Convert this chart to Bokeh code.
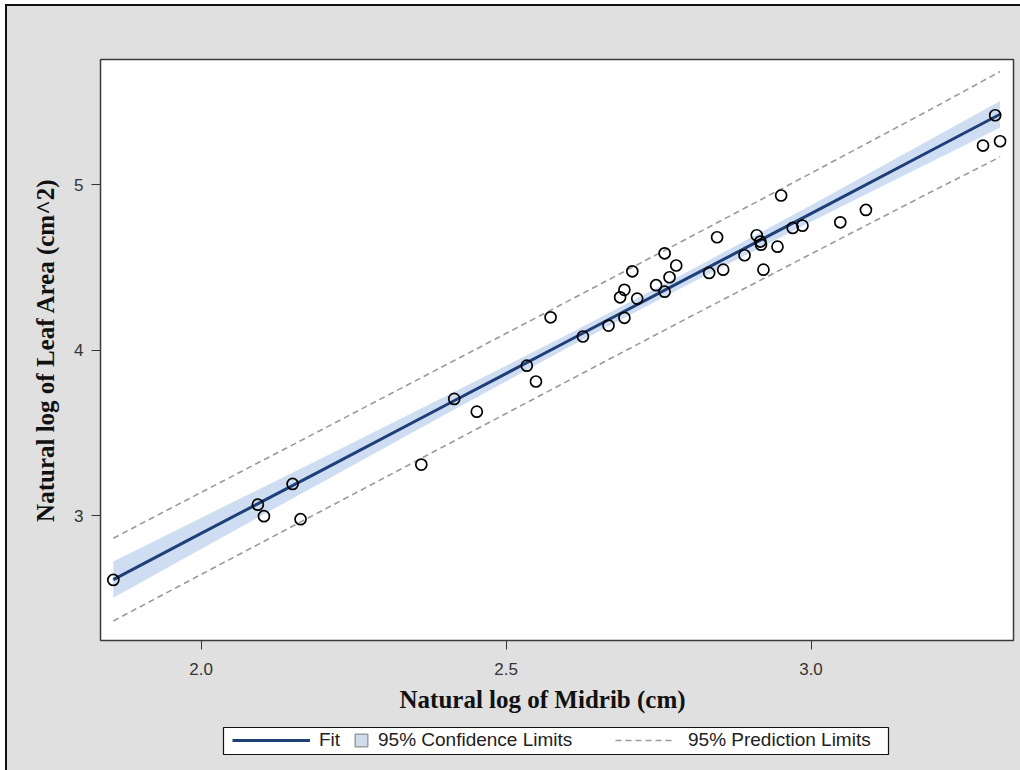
from bokeh.plotting import figure
from bokeh.layouts import column
from bokeh.models import (Range1d, FixedTicker, Legend, LegendItem, Title,
                          NumeralTickFormatter, BoxAnnotation)
from bokeh.embed import file_html
from bokeh.resources import INLINE

# ---- observed data (natural logs) ----
midrib_ln = [1.856, 2.093, 2.103, 2.150, 2.163, 2.361, 2.415, 2.452, 2.534, 2.549,
             2.573, 2.626, 2.668, 2.694, 2.687, 2.694, 2.707, 2.715, 2.746, 2.760,
             2.768, 2.760, 2.779, 2.833, 2.846, 2.856, 2.891, 2.911, 2.917, 2.918,
             2.922, 2.945, 2.951, 2.970, 2.986, 3.048, 3.090, 3.282, 3.302, 3.310]
area_ln = [2.611, 3.066, 2.996, 3.191, 2.978, 3.308, 3.705, 3.628, 3.906, 3.810,
           4.198, 4.082, 4.148, 4.195, 4.319, 4.364, 4.476, 4.311, 4.392, 4.353,
           4.440, 4.585, 4.511, 4.466, 4.682, 4.486, 4.573, 4.694, 4.656, 4.637,
           4.486, 4.625, 4.934, 4.738, 4.752, 4.772, 4.847, 5.236, 5.419, 5.262]

# ---- fit, confidence and prediction limits ----
grid_x = [1.856, 2.0, 2.2, 2.4, 2.6, 2.8, 3.0, 3.2, 3.31]
fit_y = [2.613, 2.892, 3.278, 3.665, 4.052, 4.439, 4.825, 5.212, 5.425]
ci_lower = [2.503, 2.798, 3.205, 3.611, 4.012, 4.400, 4.775, 5.143, 5.345]
ci_upper = [2.723, 2.986, 3.351, 3.719, 4.092, 4.478, 4.875, 5.281, 5.505]
pi_lower = [2.363, 2.644, 3.033, 3.422, 3.811, 4.198, 4.581, 4.962, 5.167]
pi_upper = [2.863, 3.140, 3.523, 3.908, 4.293, 4.680, 5.069, 5.462, 5.683]

x_ticks = [2.0, 2.5, 3.0]
y_ticks = [3, 4, 5]

x_label = "Natural log of Midrib (cm)"
y_label = "Natural log of Leaf Area (cm^2)"
legend_labels = ["Fit", "95% Confidence Limits", "95% Prediction Limits"]

FIT_COLOR = "#1f3f78"
BAND_COLOR = "#cfddf2"
PI_COLOR = "#9a9a9a"
PANEL_BG = "#e0e0e0"
W = 1013
B_LEFT, B_RIGHT = 93, 7

p = figure(width=W, height=720, output_backend="svg", toolbar_location=None,
           x_range=Range1d(1.835, 3.332), y_range=Range1d(2.245, 5.756),
           min_border_left=B_LEFT, min_border_right=B_RIGHT, min_border_top=53,
           min_border_bottom=86, background_fill_color="white",
           border_fill_color=PANEL_BG)
p.grid.visible = False
p.outline_line_color = "#3a3a3a"
p.outline_line_width = 1.5

p.varea(x=grid_x, y1=ci_lower, y2=ci_upper, fill_color=BAND_COLOR, fill_alpha=1.0)
p.line(grid_x, pi_lower, line_color=PI_COLOR, line_width=1.6, line_dash="6 4")
p.line(grid_x, pi_upper, line_color=PI_COLOR, line_width=1.6, line_dash="6 4")
p.line(grid_x, fit_y, line_color=FIT_COLOR, line_width=3)
p.scatter(midrib_ln, area_ln, size=11, fill_color=None, line_color="black",
          line_width=1.7)

for ax in (p.xaxis[0], p.yaxis[0]):
    ax.axis_line_color = None
    ax.major_tick_line_color = "#333333"
    ax.major_tick_out = 9
    ax.major_tick_in = 0
    ax.minor_tick_line_color = None
    ax.major_label_text_font = "Liberation Sans"
    ax.major_label_text_font_size = "17px"
    ax.major_label_text_color = "#333333"
    ax.axis_label_text_font = "Liberation Serif"
    ax.axis_label_text_font_size = "25px"
    ax.axis_label_text_font_style = "bold"
    ax.axis_label_text_color = "#111111"

p.xaxis.ticker = FixedTicker(ticks=x_ticks)
p.yaxis.ticker = FixedTicker(ticks=y_ticks)
p.xaxis.formatter = NumeralTickFormatter(format="0.0")
p.yaxis.formatter = NumeralTickFormatter(format="0")
p.yaxis.axis_label = y_label
p.xaxis.major_label_standoff = 13
p.yaxis.major_label_standoff = 8
p.yaxis.axis_label_standoff = 12

p.add_layout(Title(text=x_label, align="left", offset=299, standoff=13,
                   text_font="Liberation Serif", text_font_size="25px",
                   text_font_style="bold", text_color="#111111"), "below")

# ---- legend strip (pixel-scaled ranges, same side borders as the plot) ----
LEG_H = 44
leg_w = W - B_LEFT - B_RIGHT
leg = figure(width=W, height=LEG_H, output_backend="svg", toolbar_location=None,
             x_range=Range1d(0, leg_w), y_range=Range1d(0, LEG_H),
             x_axis_type=None, y_axis_type=None,
             min_border_left=B_LEFT, min_border_right=B_RIGHT, min_border_top=0,
             min_border_bottom=0, background_fill_color=PANEL_BG,
             border_fill_color=PANEL_BG)
leg.grid.visible = False
leg.outline_line_color = None

leg.add_layout(BoxAnnotation(left=123, right=788, top=43, bottom=16,
                             fill_color="white", fill_alpha=1.0,
                             line_color="#111111", line_width=1.2, line_alpha=1.0))

# off-screen stand-ins that only give the legend its swatches
dummy_x = [-50, -40]
dummy_y = [-50, -50]
fit_swatch = leg.line(dummy_x, dummy_y, line_color=FIT_COLOR, line_width=3)
ci_swatch = leg.quad(left=[-50], right=[-40], top=[-40], bottom=[-50],
                     fill_color="#cfdcec", line_color="#7a7a7a", line_width=1)
pi_swatch = leg.line(dummy_x, dummy_y, line_color=PI_COLOR, line_width=1.5,
                     line_dash="6 4")


def make_legend(label, renderer, vx, gw, gh, standoff):
    return Legend(items=[LegendItem(label=label, renderers=[renderer])],
                  location=(vx, 19), glyph_width=gw, glyph_height=gh,
                  padding=0, margin=0, spacing=0, label_standoff=standoff,
                  label_height=20, border_line_alpha=0, background_fill_alpha=0,
                  label_text_font="Liberation Sans", label_text_font_size="19px",
                  label_text_color="#222222")


leg.add_layout(make_legend(legend_labels[0], fit_swatch, 132, 78, 20, 9))
leg.add_layout(make_legend(legend_labels[1], ci_swatch, 253, 16, 16, 9))
leg.add_layout(make_legend(legend_labels[2], pi_swatch, 515, 58, 20, 15))

lay = column(p, leg, spacing=0,
             styles={"margin-left": "5px", "margin-top": "4px",
                     "border-left": "2px solid #111", "border-top": "2px solid #111",
                     "background": PANEL_BG})

html = file_html(lay, INLINE)
html = html.replace("<body>", '<body style="margin:0;background:#ffffff;">', 1)
open("out.html", "w").write(html)
